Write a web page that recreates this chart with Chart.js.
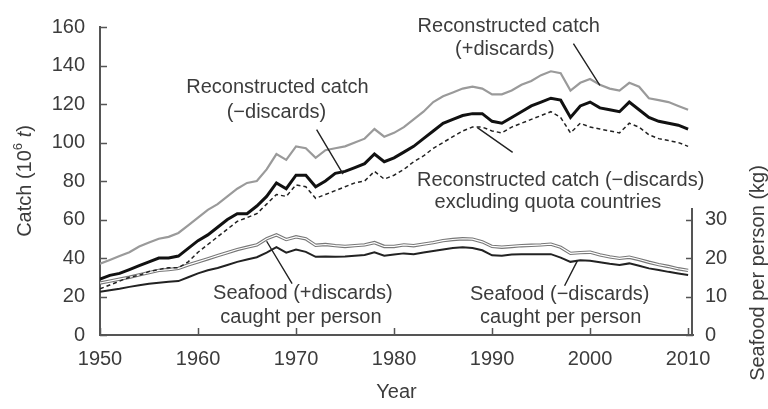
<!DOCTYPE html>
<html>
<head>
<meta charset="utf-8">
<title>Reconstructed catch and seafood per person</title>
<script src="https://cdn.jsdelivr.net/npm/chart.js@4/dist/chart.umd.min.js"></script>
<style>
  html, body { margin: 0; padding: 0; background: #fff; }
  #wrap { width: 768px; height: 409px; position: relative; }
</style>
</head>
<body>
<div id="wrap"><canvas id="myChart"></canvas></div>
<script>
const years = [1950,1951,1952,1953,1954,1955,1956,1957,1958,1959,
  1960,1961,1962,1963,1964,1965,1966,1967,1968,1969,
  1970,1971,1972,1973,1974,1975,1976,1977,1978,1979,
  1980,1981,1982,1983,1984,1985,1986,1987,1988,1989,
  1990,1991,1992,1993,1994,1995,1996,1997,1998,1999,
  2000,2001,2002,2003,2004,2005,2006,2007,2008,2009,2010];

// catch, 10^6 t
const catchPlusDiscards = [37,39,41,43,46,48,50,51,53,57,
  61,65,68,72,76,79,80,86,94,91,
  98,97,92,96,97,98,100,102,107,103,
  105,108,112,116,121,124,126,128,129,128,
  125,125,127,130,132,135,137,136,127,131,
  133,130,128,127,131,129,123,122,121,119,117];
const catchMinusDiscards = [29,31,32,34,36,38,40,40,41,45,
  49,52,56,60,63,63,67,72,79,76,
  83,83,77,80,84,85,87,89,94,90,
  92,95,98,102,106,110,112,114,115,115,
  111,110,113,116,119,121,123,122,113,119,
  121,118,117,116,121,117,113,111,110,109,107];
const catchExclQuota = [24,26,28,30,31,33,34,35,35,38,
  43,47,51,55,59,61,63,68,73,72,
  78,77,71,73,75,77,79,80,85,81,
  83,86,90,93,97,100,103,106,108,108,
  106,105,108,110,112,114,116,113,105,110,
  108,107,106,105,110,108,104,102,101,100,98];

// seafood caught per person, kg
const seafoodPlusDiscards = [13.5,14.0,14.5,15.0,15.6,16.2,16.8,17.0,17.3,18.2,
  19.0,19.8,20.6,21.4,22.2,22.8,23.4,25.0,26.0,24.8,
  25.5,25.0,23.3,23.5,23.2,23.0,23.2,23.4,24.0,23.0,
  23.0,23.4,23.2,23.6,24.0,24.5,24.8,25.0,24.9,24.2,
  23.0,22.8,23.0,23.2,23.3,23.4,23.6,22.8,21.2,21.4,
  21.5,20.8,20.3,19.9,20.2,19.6,18.9,18.3,17.8,17.2,16.8];
const seafoodMinusDiscards = [11.2,11.6,12.0,12.5,12.9,13.3,13.6,13.8,14.0,15.0,
  16.0,16.8,17.4,18.2,19.0,19.6,20.2,21.4,22.8,21.4,
  22.2,21.6,20.3,20.4,20.3,20.4,20.6,20.8,21.5,20.6,
  20.9,21.2,21.0,21.4,21.8,22.2,22.6,22.8,22.6,22.0,
  20.7,20.6,20.9,21.0,21.0,21.0,21.0,20.1,19.0,19.4,
  19.3,18.9,18.5,18.2,18.6,18.0,17.3,16.9,16.4,16.0,15.6];

const yearTicks = [1950,1960,1970,1980,1990,2000,2010];
const catchTicks = [0,20,40,60,80,100,120,140,160];
const seafoodTicks = [0,10,20,30];

// labels and leader lines, placed in (year, catch) units
const notes = [
  { text: "Reconstructed catch", year: 1968.1, value: 128.7 },
  { text: "(\u2212discards)", year: 1968.0, value: 115.4 },
  { text: "Reconstructed catch", year: 1991.7, value: 160.5 },
  { text: "(+discards)", year: 1991.3, value: 148.2 },
  { text: "Reconstructed catch (\u2212discards)", year: 1997.0, value: 80.5 },
  { text: "excluding quota countries", year: 1995.7, value: 68.7 },
  { text: "Seafood (+discards)", year: 1970.7, value: 21.5 },
  { text: "caught per person", year: 1970.5, value: 9.2 },
  { text: "Seafood (\u2212discards)", year: 1996.9, value: 21.0 },
  { text: "caught per person", year: 1997.0, value: 9.2 }
];
const leaders = [
  [1972.1, 106.7, 1974.8, 83.6],
  [1998.3, 151.3, 2001.0, 129.7],
  [1988.5, 107.7, 1992.1, 94.9],
  [1967.0, 48.7, 1969.6, 26.7],
  [1997.4, 25.6, 1998.7, 38.5]
];

const FONT = '"Liberation Sans", Arial, Helvetica, sans-serif';
const TEXT = '#3c3c3c';
const AXIS = '#555';

function pts(arr) {
  return arr.map((v, i) => ({ x: years[i], y: v }));
}

const axisExtras = {
  id: 'axisExtras',
  afterDraw(chart) {
    const ctx = chart.ctx;
    const sx = chart.scales.x, sy = chart.scales.y, sy2 = chart.scales.y2;
    const a = chart.chartArea;
    ctx.save();

    // inward tick marks + short right axis
    ctx.strokeStyle = AXIS;
    ctx.lineWidth = 1.5;
    ctx.beginPath();
    catchTicks.forEach(v => {
      const py = Math.round(sy.getPixelForValue(v)) + 0.5;
      ctx.moveTo(a.left, py); ctx.lineTo(a.left + 7, py);
    });
    yearTicks.forEach(v => {
      const px = Math.round(sx.getPixelForValue(v)) + 0.5;
      ctx.moveTo(px, a.bottom); ctx.lineTo(px, a.bottom - 7);
    });
    seafoodTicks.forEach(v => {
      const py = Math.round(sy2.getPixelForValue(v)) + 0.5;
      ctx.moveTo(a.right, py); ctx.lineTo(a.right - 7, py);
    });
    ctx.stroke();
    ctx.lineWidth = 2;
    ctx.beginPath();
    ctx.moveTo(a.right - 1, a.bottom);
    ctx.lineTo(a.right - 1, sy2.getPixelForValue(33));
    ctx.stroke();

    // annotations
    ctx.fillStyle = TEXT;
    ctx.font = '20px ' + FONT;
    ctx.textAlign = 'center';
    ctx.textBaseline = 'middle';
    notes.forEach(n => {
      ctx.fillText(n.text, sx.getPixelForValue(n.year), sy.getPixelForValue(n.value));
    });
    ctx.strokeStyle = '#222';
    ctx.lineWidth = 1.4;
    ctx.beginPath();
    leaders.forEach(l => {
      ctx.moveTo(sx.getPixelForValue(l[0]), sy.getPixelForValue(l[1]));
      ctx.lineTo(sx.getPixelForValue(l[2]), sy.getPixelForValue(l[3]));
    });
    ctx.stroke();

    // axis titles
    ctx.fillText('Year', (a.left + a.right) / 2, 392);

    ctx.save();
    ctx.translate(758, 273);
    ctx.rotate(-Math.PI / 2);
    ctx.fillText('Seafood per person (kg)', 0, 0);
    ctx.restore();

    // Catch (10^6 t) with superscript and italic t
    const parts = [
      { t: 'Catch (10', f: '20px ' + FONT, dy: 0 },
      { t: '6', f: '13px ' + FONT, dy: -7 },
      { t: ' ', f: '20px ' + FONT, dy: 0 },
      { t: 't', f: 'italic 20px ' + FONT, dy: 0 },
      { t: ')', f: '20px ' + FONT, dy: 0 }
    ];
    let total = 0;
    parts.forEach(p => { ctx.font = p.f; p.w = ctx.measureText(p.t).width; total += p.w; });
    ctx.translate(25, (a.top + a.bottom) / 2);
    ctx.rotate(-Math.PI / 2);
    ctx.textAlign = 'left';
    let cx = -total / 2;
    parts.forEach(p => {
      ctx.font = p.f;
      ctx.fillText(p.t, cx, p.dy);
      cx += p.w;
    });
    ctx.restore();
  }
};

new Chart("myChart", {
  type: "line",
  data: {
    datasets: [{
      label: "Reconstructed catch (+discards)",
      data: pts(catchPlusDiscards),
      borderColor: "#9a9a9a",
      borderWidth: 2.2,
      yAxisID: "y"
    },{
      label: "Reconstructed catch (-discards)",
      data: pts(catchMinusDiscards),
      borderColor: "#111",
      borderWidth: 3,
      yAxisID: "y"
    },{
      label: "excluding quota countries",
      data: pts(catchExclQuota),
      borderColor: "#222",
      borderWidth: 1.5,
      borderDash: [4, 3],
      yAxisID: "y"
    },{
      label: "Seafood (+discards) inner",
      data: pts(seafoodPlusDiscards),
      borderColor: "#fff",
      borderWidth: 1.2,
      yAxisID: "y2"
    },{
      label: "Seafood (+discards)",
      data: pts(seafoodPlusDiscards),
      borderColor: "#777",
      borderWidth: 3.4,
      yAxisID: "y2"
    },{
      label: "Seafood (-discards)",
      data: pts(seafoodMinusDiscards),
      borderColor: "#222",
      borderWidth: 2,
      yAxisID: "y2"
    }]
  },
  options: {
    responsive: true,
    maintainAspectRatio: false,
    animation: false,
    layout: { padding: { top: 25, left: 0, right: 0, bottom: 0 } },
    elements: { point: { radius: 0 }, line: { tension: 0 } },
    plugins: { legend: { display: false }, tooltip: { enabled: false } },
    scales: {
      x: {
        type: "linear",
        min: 1950,
        max: 2010.5,
        afterBuildTicks: s => { s.ticks = yearTicks.map(v => ({ value: v })); },
        afterFit: s => { s.height = 74; },
        grid: { display: false, drawTicks: false },
        border: { display: true, color: AXIS, width: 2 },
        ticks: { color: TEXT, font: { size: 20, family: FONT }, padding: 12, callback: v => String(v), maxRotation: 0 }
      },
      y: {
        position: "left",
        min: 0,
        max: 160,
        afterBuildTicks: s => { s.ticks = catchTicks.map(v => ({ value: v })); },
        afterFit: s => { s.width = 100; },
        grid: { display: false, drawTicks: false },
        border: { display: true, color: AXIS, width: 2 },
        ticks: { color: TEXT, font: { size: 20, family: FONT }, padding: 15 }
      },
      y2: {
        position: "right",
        min: 0,
        max: 80,
        afterBuildTicks: s => { s.ticks = seafoodTicks.map(v => ({ value: v })); },
        afterFit: s => { s.width = 75; },
        grid: { display: false, drawTicks: false },
        border: { display: false },
        ticks: { color: TEXT, font: { size: 20, family: FONT }, padding: 12 }
      }
    }
  },
  plugins: [axisExtras]
});
</script>
</body>
</html>
